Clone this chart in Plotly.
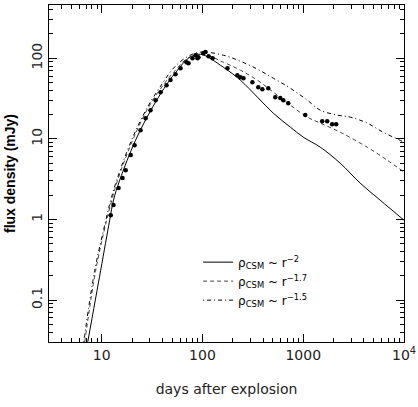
import plotly.graph_objects as go

# observed radio light curve (days, mJy)
obs_days = [12.3, 13.1, 14.7, 16.1, 17.3, 19.4, 21.2, 24.3, 27.3, 30.5, 34.3, 38.4, 44.0,
            48.2, 54.0, 60.6, 69.5, 72.7, 79.6, 85.3, 89.2, 91.2, 102, 107, 115, 126,
            177, 222, 238, 255, 313, 358, 393, 450, 528, 592, 634, 710, 1047, 1542,
            1729, 1936, 2123]
obs_flux = [1.13, 1.51, 2.45, 3.26, 4.09, 6.28, 8.35, 12.8, 18.0, 22.7, 30.2, 37.9, 46.3,
            53.5, 63.4, 75.3, 89.4, 86.9, 100, 109, 100, 103, 115, 119, 106, 100,
            75, 61.6, 58.2, 56.5, 50.4, 43.7, 41.3, 42.5, 32.9, 32.0, 30.2, 27.7, 19.7, 16.5,
            16.5, 15.2, 15.2]

# model curves
m2_days = [7.27, 9.77, 12.0, 13.1, 15.1, 21.7, 32.0, 45.0, 56.6, 72.7, 95.5,
           161, 238, 351, 505, 743, 1000, 1473, 2323, 3666, 5785, 10000]
m2_flux = [0.0303, 0.234, 0.98, 1.74, 3.08, 9.64, 24.7, 49.0, 71.1, 100, 112,
           77.3, 53.3, 32.9, 20.8, 14.0, 10.5, 7.89, 5.00, 2.83, 1.74, 0.98]

m17_days = [6.79, 8.72, 11.2, 12.6, 14.4, 20.3, 29.2, 42.1, 54.0, 71.0, 95.5,
            161, 238, 351, 505, 743, 1096, 1473, 2323, 4305, 6792, 10000]
m17_flux = [0.0303, 0.234, 0.98, 1.74, 3.08, 9.64, 24.7, 49.0, 71.1, 100, 115,
            89.2, 71.0, 53.3, 37.9, 26.2, 18.6, 15.7, 12.1, 7.89, 5.45, 3.87]

m15_days = [6.63, 8.53, 11.0, 12.3, 14.1, 19.8, 28.5, 40.2, 51.6, 69.5, 95.5,
            161, 238, 351, 505, 743, 1096, 1473, 2172, 2919, 4305, 6194, 10000]
m15_flux = [0.0303, 0.234, 0.98, 1.74, 3.08, 9.64, 24.7, 49.0, 75.2, 103, 119,
            109, 91.8, 73.1, 56.5, 42.5, 30.2, 22.7, 19.7, 18.6, 15.7, 12.1, 9.1]

x_ticks = [10, 100, 1000, 10000]
x_ticktext = ["10", "100", "1000", "10<sup>4</sup>"]
y_ticks = [0.1, 1, 10, 100]
y_ticktext = ["0.1", "1", "10", "100"]

minor_x = [m * 10**e for e in range(0, 4) for m in range(2, 10)]
minor_y = [m * 10.0**e for e in range(-2, 3) for m in range(2, 10)]

fig = go.Figure()
fig.add_trace(go.Scatter(x=m2_days, y=m2_flux, mode="lines", line_shape="spline",
                         line=dict(color="black", width=1),
                         name="\u03c1<sub>CSM</sub> ~ r<sup>\u22122</sup>"))
fig.add_trace(go.Scatter(x=m17_days, y=m17_flux, mode="lines", line_shape="spline",
                         line=dict(color="#444", width=1, dash="4px,3px"),
                         name="\u03c1<sub>CSM</sub> ~ r<sup>\u22121.7</sup>"))
fig.add_trace(go.Scatter(x=m15_days, y=m15_flux, mode="lines", line_shape="spline",
                         line=dict(color="black", width=1, dash="1px,3px,4px,3px"),
                         name="\u03c1<sub>CSM</sub> ~ r<sup>\u22121.5</sup>"))
fig.add_trace(go.Scatter(x=obs_days, y=obs_flux, mode="markers",
                         marker=dict(color="black", size=4.5), showlegend=False))

axis_common = dict(showline=True, linecolor="black", linewidth=1, mirror="allticks",
                   ticks="inside", ticklen=8, tickcolor="black", showgrid=False,
                   zeroline=False, automargin=False,
                   tickfont=dict(size=14, color="#222"))

fig.update_xaxes(type="log", range=[0.477, 4.0], tickmode="array",
                 tickvals=x_ticks, ticktext=x_ticktext,
                 minor=dict(ticks="inside", ticklen=4, tickcolor="black",
                            tickmode="array", tickvals=minor_x, showgrid=False),
                 title=dict(text="days after explosion", font=dict(size=14, color="#222"),
                            standoff=22),
                 **axis_common)
fig.update_yaxes(type="log", range=[-1.52, 2.66], tickmode="array",
                 tickvals=y_ticks, ticktext=y_ticktext, tickangle=-90,
                 minor=dict(ticks="inside", ticklen=4, tickcolor="black",
                            tickmode="array", tickvals=minor_y, showgrid=False),
                 title=dict(text="<b>flux density (mJy)</b>",
                            font=dict(size=14, color="black", family="Liberation Sans"),
                            standoff=10),
                 **axis_common)

fig.update_layout(
    width=418, height=407,
    margin=dict(l=49, r=14, t=5, b=65),
    plot_bgcolor="white", paper_bgcolor="white",
    font=dict(family="DejaVu Sans", color="black"),
    legend=dict(x=0.42, y=0.28, xanchor="left", yanchor="top",
                bgcolor="rgba(0,0,0,0)", font=dict(size=12),
                tracegroupgap=0, itemwidth=30),
)

fig.write_html("out.html", config={"displayModeBar": False},
               post_script="document.body.style.margin='0';")
